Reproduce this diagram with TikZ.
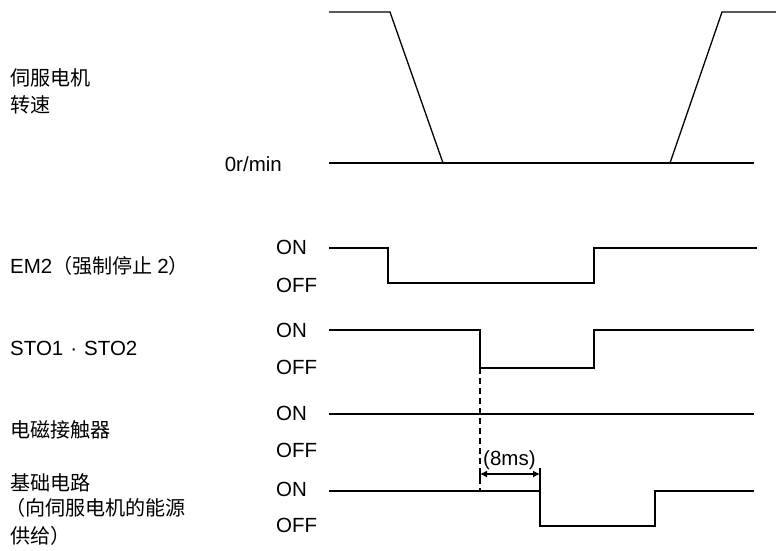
\documentclass[tikz,border=0pt]{standalone}
\usepackage{fontspec}
\setmainfont{Liberation Sans}
\newfontfamily\cjk{Noto Sans CJK SC}[Scale=0.98]
\usetikzlibrary{arrows.meta}
\tikzset{
  sig/.style={line width=1.3pt, line join=miter, line cap=butt},
  lbl/.style={anchor=base west, inner sep=0pt, font=\fontsize{20.5}{22}\selectfont},
  lvl/.style={anchor=base west, inner sep=0pt, font=\fontsize{20.5}{22}\selectfont},
  dimarrow/.style={line width=1.1pt, {Latex[length=7pt,width=7pt]}-{Latex[length=7pt,width=7pt]}},
  guide/.style={line width=1.1pt, dash pattern=on 6pt off 4pt}
}
\begin{document}
\begin{tikzpicture}[x=1pt,y=-1pt]
\useasboundingbox (0,0) rectangle (776,550);

% left labels
\node[lbl] (spd1) at (10,85) {\cjk 伺服电机};
\node[lbl] (spd2) at (10,112) {\cjk 转速};
\node[lbl] (em2) at (10,273) {EM2{\cjk （强制停止 }2{\cjk ）}};
\node[lbl] (sto) at (10,355) {STO1\hspace{7pt}·\hspace{7pt}STO2};
\node[lbl] (mc) at (10,437) {\cjk 电磁接触器};
\node[lbl] (bc1) at (10,490) {\cjk 基础电路};
\node[lbl] (bc2) at (5,515) {\cjk （向伺服电机的能源};
\node[lbl] (bc3) at (10,543) {\cjk 供给）};

% level labels
\node[lvl, anchor=base east] (zero) at (282,171) {0r/min};
\node[lvl] (on1) at (276,254) {ON};
\node[lvl] (off1) at (276,292) {OFF};
\node[lvl] (on2) at (276,337) {ON};
\node[lvl] (off2) at (276,374) {OFF};
\node[lvl] (on3) at (276,420) {ON};
\node[lvl] (off3) at (276,457) {OFF};
\node[lvl] (on4) at (276,496) {ON};
\node[lvl] (off4) at (276,532) {OFF};

% servo motor speed
\draw[sig] (329,12) -- (390,12) -- (443,163);
\draw[sig] (329,163) -- (754,163);
\draw[sig] (670,163) -- (722,12) -- (776,12);

% EM2
\draw[sig] (329,248) -- (388,248) -- (388,283) -- (594,283) -- (594,248) -- (757,248);

% STO1/STO2
\coordinate (stofall) at (480,368);
\draw[sig] (329,330) -- (480,330) -- (stofall) -- (594,368) -- (594,330) -- (754,330);

% magnetic contactor
\draw[sig] (329,414) -- (754,414);

% base circuit
\coordinate (basemark) at (480,491);
\draw[sig] (329,491) -- (540,491) -- (540,526) -- (655,526) -- (655,491) -- (754,491);

% dashed guide and 8ms dimension
\draw[guide] (stofall) -- (basemark);
\coordinate (dimL) at (480,474);
\coordinate (dimR) at (540,474);
\draw[line width=1.1pt] (480,468) -- (480,480);
\draw[line width=1.1pt] (540,468) -- (540,491);
\draw[dimarrow] (dimL) -- (dimR);
\node[lvl] (ms) at (483,465) {(8ms)};
\end{tikzpicture}
\end{document}
